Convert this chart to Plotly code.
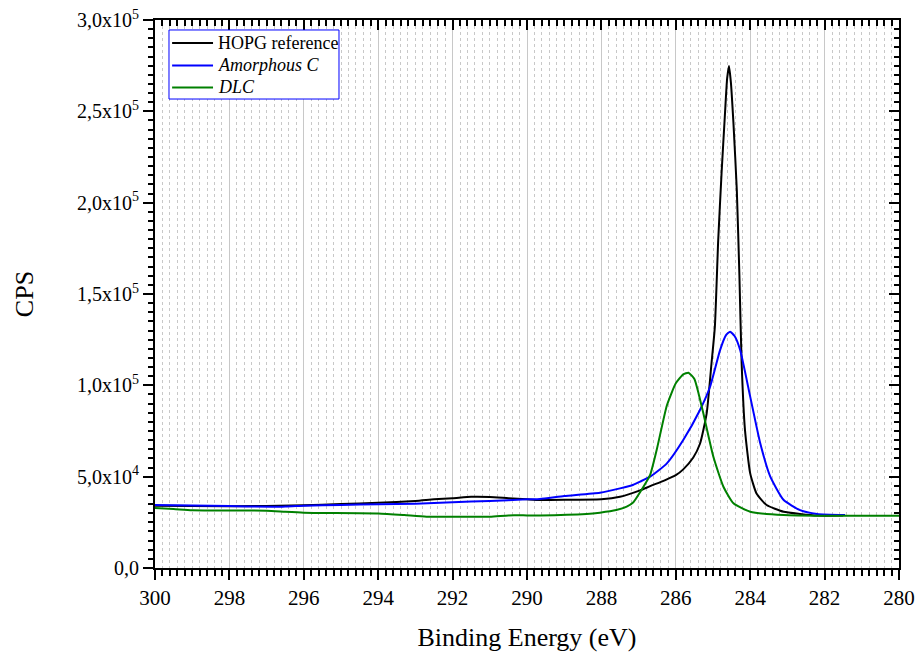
import plotly.graph_objects as go

# HOPG reference (black)
hopg_e = [300, 298, 296, 295, 294, 293, 292.5, 292, 291.5, 291, 290.5, 290, 289.65, 288.8, 288,
          287.5, 286.96, 286.69, 286.3, 286.0, 285.8, 285.53, 285.35, 285.17, 285.04, 284.95,
          284.86, 284.77, 284.68, 284.62, 284.57, 284.52, 284.45, 284.36, 284.29, 284.23, 284.14, 284.0,
          283.83, 283.56, 283.1, 282.66, 282.2, 281.5]
hopg_cps = [34100, 33800, 34300, 35000, 35700, 36700, 37600, 38200, 39000, 38900, 38200, 37600, 37200, 37400, 37600,
            39000, 42500, 44800, 48000, 50800, 54000, 60500, 68000, 84700, 112100, 132000,
            179500, 216100, 248000, 268000, 274800, 266000, 243400, 206900, 160000, 112100, 75500, 51800,
            40800, 34500, 30800, 29600, 28700, 28700]

# Amorphous C (blue)
amc_e = [300, 298, 296.5, 296, 295, 294, 293, 292, 291, 290, 289.65, 289, 288.04, 287.5, 287.14,
         286.96, 286.69, 286.24, 285.8, 285.35, 285.08, 284.81, 284.65, 284.54, 284.42, 284.27, 284.0, 283.73,
         283.46, 283.1, 282.66, 282.2, 281.45]
amc_cps = [34500, 33900, 33600, 34100, 34500, 34900, 35200, 36000, 36700, 37600, 37800, 39400, 41200, 43600, 45600,
           47300, 50000, 57300, 70100, 86500, 99200, 119300, 127500, 129400, 127000, 119300, 93800, 68300,
           50000, 37200, 31700, 29600, 29000]

# DLC (green)
dlc_e = [300, 299.5, 299, 297, 296.5, 296, 294, 293.3, 292.7, 291, 290.5, 290, 289.65, 288.4, 288.04,
         287.6, 287.32, 287.14, 286.96, 286.69, 286.51, 286.24, 286.0, 285.8, 285.66, 285.5, 285.4, 285.26,
         284.99, 284.72, 284.45, 284.0, 283.1, 282, 280]
dlc_cps = [32800, 32300, 31600, 31400, 30800, 30300, 29900, 29000, 28100, 28100, 28800, 28800, 28800, 29600, 30300,
           31700, 33600, 36000, 41500, 51000, 65000, 89000, 101100, 106000, 106900, 103500, 96500, 84700,
           60900, 44500, 35400, 30800, 29000, 28600, 28600]

legend_names = ["HOPG reference", "<i>Amorphous C</i>", "<i>DLC</i>"]
legend_colors = ["black", "#0000ff", "#008000"]

y_tickvals = [0, 50000, 100000, 150000, 200000, 250000, 300000]
y_ticktext = ["0,0", "5,0x10<sup>4</sup>", "1,0x10<sup>5</sup>", "1,5x10<sup>5</sup>",
              "2,0x10<sup>5</sup>", "2,5x10<sup>5</sup>", "3,0x10<sup>5</sup>"]

FONT = "Liberation Serif, Times New Roman, serif"

fig = go.Figure()
series = [(hopg_e, hopg_cps), (amc_e, amc_cps), (dlc_e, dlc_cps)]
for (xs, ys), nm, col in zip(series, legend_names, legend_colors):
    fig.add_trace(go.Scatter(x=xs, y=ys, mode="lines", name=nm, showlegend=False,
                             line=dict(color=col, width=2, shape="spline", smoothing=0.5)))
# invisible helper trace so the mirrored top/right axes (inward ticks) are drawn
fig.add_trace(go.Scatter(x=hopg_e, y=hopg_cps, xaxis="x2", yaxis="y2", mode="lines",
                         line=dict(width=0), opacity=0, hoverinfo="skip", showlegend=False))

# legend drawn manually (paper coords of plot area)
shapes = [dict(type="rect", xref="paper", yref="paper", x0=0.0188, x1=0.2473, y0=0.8558, y1=0.9818,
               line=dict(color="#0000ff", width=1), fillcolor="white", layer="above")]
annotations = []
row_y = [0.9580, 0.9170, 0.8770]
for ry, nm, col in zip(row_y, legend_names, legend_colors):
    shapes.append(dict(type="line", xref="paper", yref="paper", x0=0.0230, x1=0.0780, y0=ry, y1=ry,
                       line=dict(color=col, width=2), layer="above"))
    annotations.append(dict(xref="paper", yref="paper", x=0.0825, y=ry, xanchor="left", yanchor="middle",
                            text=nm, showarrow=False, font=dict(family=FONT, size=18, color="black")))

fig.update_layout(
    width=917, height=657,
    margin=dict(l=155, r=18, t=20, b=89, autoexpand=False),
    paper_bgcolor="white", plot_bgcolor="white",
    font=dict(family=FONT, color="black"),
    showlegend=False,
    shapes=shapes, annotations=annotations,
    xaxis=dict(range=[300, 280], tickmode="linear", tick0=280, dtick=2, automargin=False,
               showline=True, linecolor="black", linewidth=2, mirror=False,
               ticks="outside", ticklen=10, tickwidth=2, tickcolor="black",
               tickfont=dict(family=FONT, size=21, color="black"), ticklabeloverflow="allow",
               showgrid=True, gridcolor="#c8c8c8", gridwidth=1, zeroline=False,
               minor=dict(dtick=0.2, ticks="outside", ticklen=6, tickwidth=1.5, tickcolor="black",
                          showgrid=True, gridcolor="#c8c8c8", griddash="dot", gridwidth=1),
               title=dict(text="Binding Energy (eV)", font=dict(family=FONT, size=26, color="black"),
                          standoff=19)),
    yaxis=dict(range=[0, 300000], tickmode="array", tickvals=y_tickvals, ticktext=y_ticktext,
               automargin=False, ticklabeloverflow="allow",
               showline=True, linecolor="black", linewidth=2, mirror=False,
               ticks="outside", ticklen=10, tickwidth=2, tickcolor="black",
               tickfont=dict(family=FONT, size=20, color="black"),
               showgrid=False, zeroline=False,
               minor=dict(dtick=5000, tick0=0, ticks="outside", ticklen=5, tickwidth=1.5,
                          tickcolor="black", showgrid=False),
               title=dict(text="CPS", font=dict(family=FONT, size=26, color="black"), standoff=36)),
    xaxis2=dict(overlaying="x", side="top", anchor="y2", range=[300, 280],
                tickmode="linear", tick0=280, dtick=2, automargin=False,
                showline=True, linecolor="black", linewidth=2,
                ticks="inside", ticklen=10, tickwidth=2, tickcolor="black",
                showticklabels=False, showgrid=False, zeroline=False,
                minor=dict(dtick=0.2, ticks="inside", ticklen=6, tickwidth=1.5, tickcolor="black",
                           showgrid=False)),
    yaxis2=dict(overlaying="y", side="right", anchor="x2", range=[0, 300000],
                tickmode="array", tickvals=y_tickvals, automargin=False,
                showline=True, linecolor="black", linewidth=2,
                ticks="inside", ticklen=10, tickwidth=2, tickcolor="black",
                showticklabels=False, showgrid=False, zeroline=False,
                minor=dict(dtick=5000, tick0=0, ticks="inside", ticklen=5, tickwidth=1.5,
                           tickcolor="black", showgrid=False)),
)

# remove the page's default 8px body margin and scrollbars so the 917x657 figure fills the window
post = ("document.body.style.margin='0';document.body.style.padding='0';"
        "document.documentElement.style.overflow='hidden';document.body.style.overflow='hidden';")
fig.write_html("out.html", post_script=post, config={"displayModeBar": False})
